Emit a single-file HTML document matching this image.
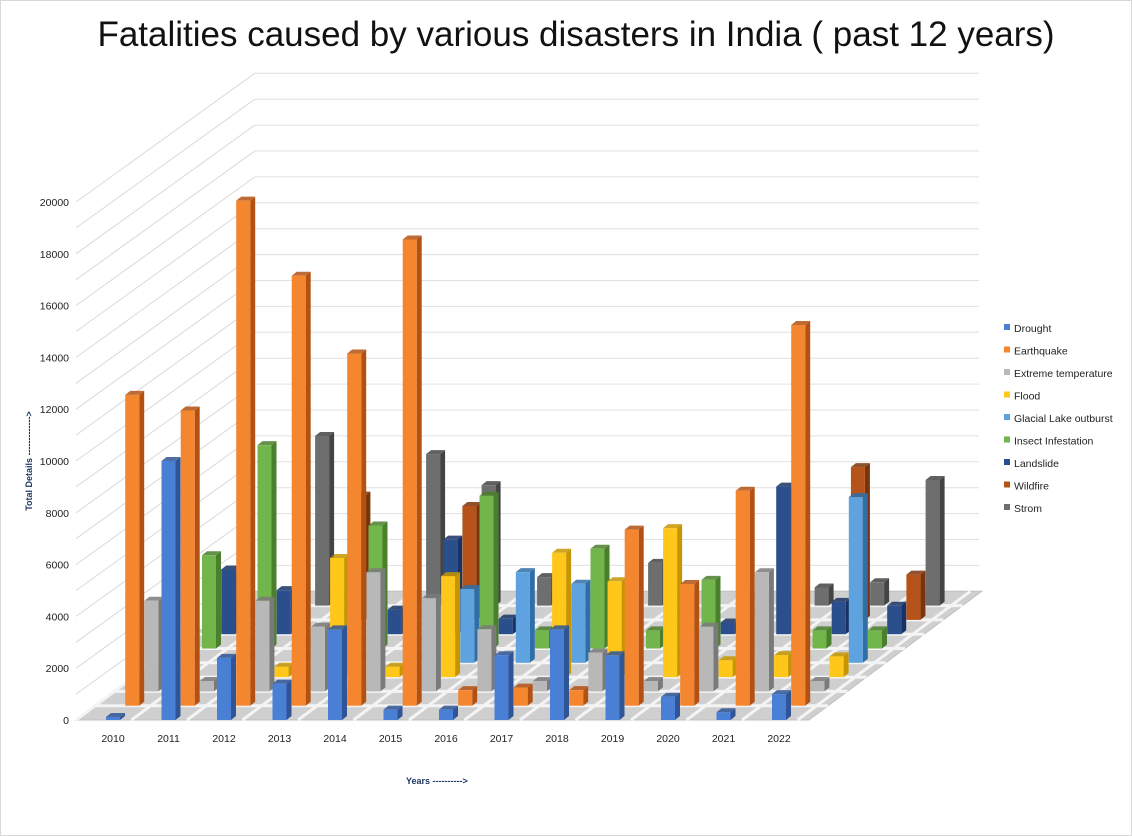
<!DOCTYPE html>
<html><head><meta charset="utf-8"><style>
body{margin:0;background:#fff;}
#wrap{width:1130px;height:834px;border:1px solid #d8d8d8;position:relative;overflow:hidden;font-family:"Liberation Sans",sans-serif;}
</style></head><body>
<div id="wrap">
<svg id="chart" width="1130" height="834">
<text x="575" y="45" text-anchor="middle" font-size="35" fill="#111" font-family="Liberation Sans, sans-serif">Fatalities caused by various disasters in India ( past 12 years)</text>
<g id="grid"></g><g id="floor"></g><g id="bars"></g><g id="axes"></g><g id="legend"></g>
<text transform="translate(31,460) rotate(-90)" text-anchor="middle" font-size="9" font-weight="bold" fill="#1f3864">Total Details -------------&gt;</text>
<text x="405" y="783" font-size="9" font-weight="bold" fill="#1f3864">Years  ----------&gt;</text>
</svg></div>
<script>
const years=["2010","2011","2012","2013","2014","2015","2016","2017","2018","2019","2020","2021","2022"];
const seriesNames=["Drought","Earthquake","Extreme temperature","Flood","Glacial Lake outburst","Insect Infestation","Landslide","Wildfire","Strom"];
const drought=[100,10000,2400,1400,3500,400,400,2500,3500,2500,900,300,1000];
const earthquake=[12000,11400,19500,16600,13600,18000,600,700,600,6800,4700,8300,14700];
const extremeTemp=[3500,400,3500,2500,4600,3600,2400,400,1500,400,2500,4600,400];
const flood=[0,0,400,4600,400,3900,0,4800,3700,5750,650,850,800];
const glacial=[0,0,0,0,0,2850,3500,3050,0,0,0,0,6400];
const insect=[3600,7850,0,4750,0,5900,700,3850,700,2650,0,700,700];
const landslide=[2500,1700,0,950,3650,600,0,0,0,450,5700,1250,1100];
const wildfire=[0,0,4800,0,4400,0,0,0,0,0,0,5900,1750];
const strom=[0,6550,0,5850,4650,1100,0,1650,0,0,700,900,4850];
const yTicks=[0,2000,4000,6000,8000,10000,12000,14000,16000,18000,20000];
const allSeries=[drought,earthquake,extremeTemp,flood,glacial,insect,landslide,wildfire,strom];
const colors=[["#4a7fd6","#2f5597"],["#f4862f","#b35113"],["#b8b8b8","#7a7a7a"],["#ffc71a","#c79500"],["#5ea3df","#2e6fa8"],["#72b54a","#4a7f2c"],["#2b4f8c","#1a3262"],["#b5531a","#7a340a"],["#6e6e6e","#444"]];
const NS="http://www.w3.org/2000/svg";
const K=0.0259, X0=105, YB=719, STEP=55.5, DX=19.2, DY=-14.3;
function yv(v){return v*K;}
function xPos(i,s){return X0+STEP*i+DX*s;}
function yBase(s){return YB+DY*s;}
function mk(tag,attrs,parent){const e=document.createElementNS(NS,tag);for(const k in attrs)e.setAttribute(k,attrs[k]);parent.appendChild(e);return e;}
const grid=document.getElementById('grid');
const BX=DX*9, BY=DY*9;
for(let v=0;v<=20500;v+=1000){
  const yf=YB-yv(v);
  const l1=mk('line',{x1:75,y1:yf,x2:75+BX+6,y2:yf+BY,stroke:"#d9d9d9","stroke-width":1},grid);
  
  
  const l2=mk('line',{x1:75+BX+6,y1:yf+BY,x2:978,y2:yf+BY,stroke:"#e0e0e0","stroke-width":1},grid);
  
  
}
const fl=document.getElementById('floor');
const floorP=mk('polygon',{points:`75,${YB} 808,${YB} ${808+BX},${YB+BY} ${75+BX+6},${YB+BY}`,fill:"#cfcfcf",stroke:"#c0c0c0"},fl);


for(let s=1;s<9;s++){const l=mk('line',{x1:75+DX*s,y1:yBase(s),x2:808+DX*s,y2:yBase(s),stroke:"#f4f4f4","stroke-width":3},fl);}
for(let i=0;i<=13;i++){const x=75+STEP*i*1.0;const l=mk('line',{x1:x,y1:YB,x2:x+BX,y2:YB+BY,stroke:"#f4f4f4","stroke-width":3},fl);}
const bars=document.getElementById('bars');
const W=14,SW=5,TH=4;
for(let s=8;s>=0;s--){
  const data=allSeries[s];
  for(let i=data.length-1;i>=0;i--){
    const v=data[i]; if(!v) continue;
    const x=xPos(i,s), b=yBase(s), h=Math.max(yv(v),3), t=b-h;
    const g=mk('g',{},bars);
    
    
    mk('polygon',{points:`${x+W},${t} ${x+W+SW},${t-TH} ${x+W+SW},${b-TH} ${x+W},${b}`,fill:colors[s][1]},g);
    mk('polygon',{points:`${x},${t} ${x+SW},${t-TH} ${x+W+SW},${t-TH} ${x+W},${t}`,fill:colors[s][1],opacity:0.85},g);
    mk('rect',{x:x,y:t,width:W,height:b-t,fill:colors[s][0]},g);
  }
}
const ax=document.getElementById('axes');
yTicks.forEach(v=>{const t=mk('text',{x:68,y:YB-yv(v)+4,"text-anchor":"end","font-size":10.5,fill:"#222"},ax);t.textContent=v;});
years.forEach((y,i)=>{const t=mk('text',{x:112+STEP*i,y:741,"text-anchor":"middle","font-size":10.5,fill:"#222"},ax);t.textContent=y;});
const lg=document.getElementById('legend');
seriesNames.forEach((n,k)=>{const y=327+22.5*k;const g=mk('g',{},lg);


mk('rect',{x:1003,y:y-4,width:6,height:6,fill:colors[k][0]},g);
const t=mk('text',{x:1013,y:y+4,"font-size":10.5,fill:"#222"},g);t.textContent=n;});
</script>
</body></html>
